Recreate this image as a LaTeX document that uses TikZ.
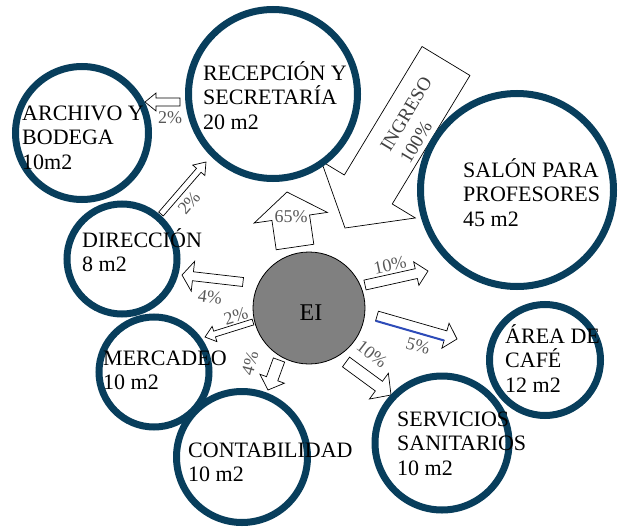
\documentclass[tikz,border=0pt]{standalone}
\usepackage{fontspec}
\setmainfont{Liberation Serif}
\usetikzlibrary{calc}

\definecolor{ringblue}{RGB}{8,62,92}
\definecolor{pctgray}{RGB}{88,88,88}
\definecolor{hubgray}{RGB}{128,128,128}
\definecolor{edgeblue}{RGB}{45,75,185}

\tikzset{
  ring/.style={circle, draw=ringblue, line width=7pt, minimum size=#1, inner sep=0pt},
  hub/.style={circle, draw=black, fill=hubgray, line width=0.8pt, minimum size=#1, inner sep=0pt},
  % placed by the baseline of the last line
  roomtext/.style={font=\fontsize{22}{24.8}\selectfont, align=left, anchor=base west, inner sep=0pt},
  pct/.style={font=\fontsize{18}{20}\selectfont, text=pctgray, inner sep=0pt},
  arrowbody/.style={draw=black, fill=white, line width=0.7pt, line join=miter},
}

% block arrow: [extra style]{tail}{tip}{half shaft}{half head}{head length}
\newcommand{\fatarrow}[6][]{%
  \coordinate (fa-neck) at ($(#3)!#6!(#2)$);
  \draw[arrowbody,#1]
    ($(#2)!#4!90:(#3)$) -- ($(fa-neck)!#4!90:(#3)$) -- ($(fa-neck)!#5!90:(#3)$)
    -- (#3) -- ($(fa-neck)!#5!-90:(#3)$) -- ($(fa-neck)!#4!-90:(#3)$)
    -- ($(#2)!#4!-90:(#3)$) -- cycle;
}

\begin{document}
\begin{tikzpicture}[x=1pt,y=-1pt]
\useasboundingbox (0,0) rectangle (618,527);

% arrow end points
\coordinate (recToArcT) at (180,102);  \coordinate (recToArcH) at (145,102);
\coordinate (dirToRecT) at (161,214);  \coordinate (dirToRecH) at (206,162);
\coordinate (upT)       at (295,247);  \coordinate (upH)       at (287,192);
\coordinate (inT)       at (446,61);   \coordinate (inH)       at (345,228);
\coordinate (toDirT)    at (243,282);  \coordinate (toDirH)    at (182,275);
\coordinate (toMerT)    at (253,322);  \coordinate (toMerH)    at (205,337);
\coordinate (toConT)    at (279,360);  \coordinate (toConH)    at (268,390);
\coordinate (toSalT)    at (365,285);  \coordinate (toSalH)    at (428,271);
\coordinate (toCafT)    at (377,316);  \coordinate (toCafH)    at (457,339);
\coordinate (toSerT)    at (346,362);  \coordinate (toSerH)    at (391,395);

% block arrows
\fatarrow{recToArcT}{recToArcH}{4pt}{9pt}{11pt}
\fatarrow{dirToRecT}{dirToRecH}{3pt}{8pt}{11pt}
\fatarrow{upT}{upH}{19pt}{37pt}{26pt}
\fatarrow{inT}{inH}{28pt}{55pt}{45pt}
\fatarrow{toDirT}{toDirH}{4.5pt}{15pt}{11pt}
\fatarrow{toMerT}{toMerH}{3pt}{8pt}{10pt}
\fatarrow{toConT}{toConH}{6pt}{13pt}{12pt}
\fatarrow{toSalT}{toSalH}{5pt}{12pt}{12pt}
\fatarrow{toCafT}{toCafH}{5pt}{13pt}{12pt}
\fatarrow{toSerT}{toSerH}{6pt}{16pt}{15pt}
% coloured lower edge of the coffee-area arrow
\coordinate (cafNeck) at ($(toCafH)!12pt!(toCafT)$);
\draw[edgeblue, line width=2pt] ($(toCafT)!5pt!-90:(toCafH)$) -- ($(cafNeck)!5pt!-90:(toCafH)$);

% rooms
\node[ring=133pt] (archivo)  at (82,133)  {};
\node[ring=169pt] (recep)    at (273,94)  {};
\node[ring=193pt] (salon)    at (517,190) {};
\node[ring=110pt] (direc)    at (122,259) {};
\node[ring=110pt] (merca)    at (154,372) {};
\node[ring=131pt] (conta)    at (242,457) {};
\node[ring=134pt] (servi)    at (442,443) {};
\node[ring=111pt] (cafe)     at (545,360) {};
\node[hub=112pt]  (ei)       at (309,308) {};

% room names
\node[roomtext] (archivoT) at (22,169.6)  {ARCHIVO Y\\BODEGA\\10m2};
\node[roomtext] (recepT)   at (203,129.6) {RECEPCIÓN Y\\SECRETARÍA\\20 m2};
\node[roomtext] (salonT)   at (463,226.6) {SALÓN PARA\\PROFESORES\\45 m2};
\node[roomtext] (direcT)   at (82,271.8)  {DIRECCIÓN\\8 m2};
\node[roomtext] (mercaT)   at (103,389.8) {MERCADEO\\10 m2};
\node[roomtext] (contaT)   at (188,481.8) {CONTABILIDAD\\10 m2};
\node[roomtext] (serviT)   at (397,475.6) {SERVICIOS\\SANITARIOS\\10 m2};
\node[roomtext] (cafeT)    at (505,392.6) {ÁREA DE\\CAFÉ\\12 m2};
\node[font=\fontsize{24}{26}\selectfont, inner sep=0pt] (eiT) at (311,313) {EI};

% flow percentages
\node[pct] (pA) at (170,118) {2\%};
\node[pct, rotate=50] (pB) at (189,203) {2\%};
\node[pct] (pC) at (291,217) {65\%};
\node[pct, rotate=59, align=left, font=\fontsize{19}{23}\selectfont, text=black!75] (pIn) at (416,120) {INGRESO\\100\%};
\node[pct, rotate=-7] (pE) at (210,297) {4\%};
\node[pct, rotate=17] (pF) at (236,316) {2\%};
\node[pct, rotate=75] (pG) at (250,363) {4\%};
\node[pct, rotate=12] (pH) at (390,265) {10\%};
\node[pct, rotate=-16] (pI) at (418,346) {5\%};
\node[pct, rotate=-38] (pJ) at (372,354) {10\%};
\end{tikzpicture}
\end{document}
